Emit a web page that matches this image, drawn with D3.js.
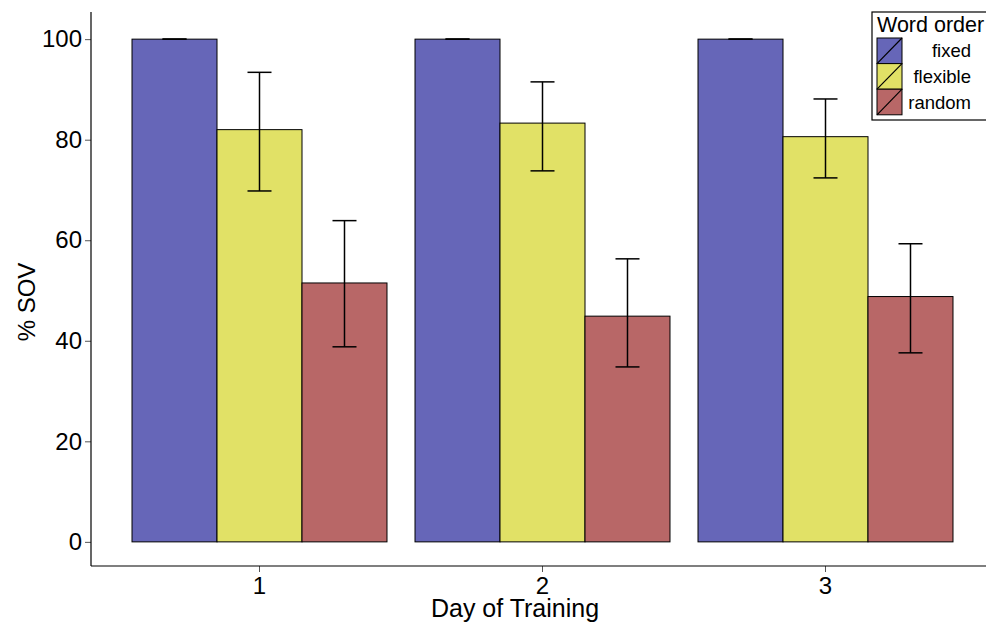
<!DOCTYPE html>
<html lang="en">
<head>
<meta charset="utf-8">
<script src="https://d3js.org/d3.v7.min.js"></script>
<style>
  body { margin: 0; background: #fff; }
  svg { display: block; font-family: "Liberation Sans", Arial, sans-serif; }
</style>
</head>
<body>
<div id="chart"></div>
<script>
// data
const days = ["1", "2", "3"];
const orders = ["fixed", "flexible", "random"];
const colors = ["#6666b8", "#e1e166", "#b86767"];
const meanFixed    = [100, 100, 100];
const meanFlexible = [82.0, 83.3, 80.6];
const meanRandom   = [51.5, 44.9, 48.8];
const loFixed    = [100, 100, 100];
const hiFixed    = [100, 100, 100];
const loFlexible = [69.8, 73.8, 72.4];
const hiFlexible = [93.4, 91.5, 88.1];
const loRandom   = [38.8, 34.8, 37.6];
const hiRandom   = [63.9, 56.3, 59.3];
const yTicks = [0, 20, 40, 60, 80, 100];

const width = 986, height = 624;
const left = 91, bottom = 566;

const means = [meanFixed, meanFlexible, meanRandom];
const los = [loFixed, loFlexible, loRandom];
const his = [hiFixed, hiFlexible, hiRandom];
const rows = [];
days.forEach((d, i) => orders.forEach((o, j) => {
  rows.push({day: d, order: o, mean: means[j][i], lo: los[j][i], hi: his[j][i]});
}));

const svg = d3.select("#chart").append("svg")
    .attr("width", width)
    .attr("height", height);

const x = d3.scaleBand().domain(days).range([118, 967])
    .paddingInner(0.099).paddingOuter(0.0495);
const xi = d3.scaleBand().domain(orders).range([0, x.bandwidth()]);
const y = d3.scaleLinear().domain([-4.8, 105.4]).range([bottom, 12]);
const color = d3.scaleOrdinal().domain(orders).range(colors);

// bars
svg.append("g").selectAll("rect").data(rows).join("rect")
    .attr("x", d => x(d.day) + xi(d.order))
    .attr("y", d => y(d.mean))
    .attr("width", xi.bandwidth())
    .attr("height", d => y(0) - y(d.mean))
    .attr("fill", d => color(d.order))
    .attr("stroke", "#000")
    .attr("stroke-width", 1);

// error bars
const eb = svg.append("g").attr("stroke", "#000").attr("stroke-width", 1.5);
rows.forEach(d => {
  const cx = x(d.day) + xi(d.order) + xi.bandwidth() / 2;
  eb.append("line").attr("x1", cx).attr("x2", cx).attr("y1", y(d.lo)).attr("y2", y(d.hi));
  eb.append("line").attr("x1", cx - 12).attr("x2", cx + 12).attr("y1", y(d.lo)).attr("y2", y(d.lo));
  eb.append("line").attr("x1", cx - 12).attr("x2", cx + 12).attr("y1", y(d.hi)).attr("y2", y(d.hi));
});

// axes
svg.append("g")
    .attr("transform", `translate(${left},0)`)
    .call(d3.axisLeft(y).tickValues(yTicks).tickSize(6).tickPadding(3))
    .call(g => g.select(".domain").remove())
    .call(g => g.selectAll("text").attr("font-size", 24).attr("fill", "#000")
        .attr("font-family", "Liberation Sans, Arial, sans-serif"))
    .call(g => g.selectAll(".tick line").attr("stroke", "#555"));

svg.append("g")
    .attr("transform", `translate(0,${bottom})`)
    .call(d3.axisBottom(x).tickSize(6).tickPadding(5))
    .call(g => g.select(".domain").remove())
    .call(g => g.selectAll("text").attr("font-size", 24).attr("fill", "#000")
        .attr("font-family", "Liberation Sans, Arial, sans-serif"))
    .call(g => g.selectAll(".tick line").attr("stroke", "#555"));

svg.append("line").attr("x1", left).attr("x2", left).attr("y1", 12).attr("y2", bottom)
    .attr("stroke", "#000").attr("stroke-width", 1.2);
svg.append("line").attr("x1", left).attr("x2", width).attr("y1", bottom).attr("y2", bottom)
    .attr("stroke", "#000").attr("stroke-width", 1.2);

svg.append("text")
    .attr("x", 515).attr("y", 617)
    .attr("text-anchor", "middle")
    .attr("font-size", 25)
    .text("Day of Training");

svg.append("text")
    .attr("transform", "translate(35,302) rotate(-90)")
    .attr("text-anchor", "middle")
    .attr("font-size", 24)
    .text("% SOV");

// legend
const lg = svg.append("g");
lg.append("rect").attr("x", 872).attr("y", 12).attr("width", 130).attr("height", 108)
    .attr("fill", "#fff").attr("stroke", "#000").attr("stroke-width", 1.2);
lg.append("text").attr("x", 877).attr("y", 32).attr("font-size", 21.5).text("Word order");
orders.forEach((o, j) => {
  const ky = 38 + j * 25.6;
  lg.append("rect").attr("x", 877).attr("y", ky).attr("width", 25).attr("height", 25.6)
      .attr("fill", color(o)).attr("stroke", "#000").attr("stroke-width", 1);
  lg.append("line").attr("x1", 877).attr("y1", ky + 25.6).attr("x2", 902).attr("y2", ky)
      .attr("stroke", "#000").attr("stroke-width", 1.2);
  lg.append("text").attr("x", 971).attr("y", ky + 13).attr("dy", "0.35em")
      .attr("text-anchor", "end").attr("font-size", 18.5).text(o);
});
</script>
</body>
</html>
